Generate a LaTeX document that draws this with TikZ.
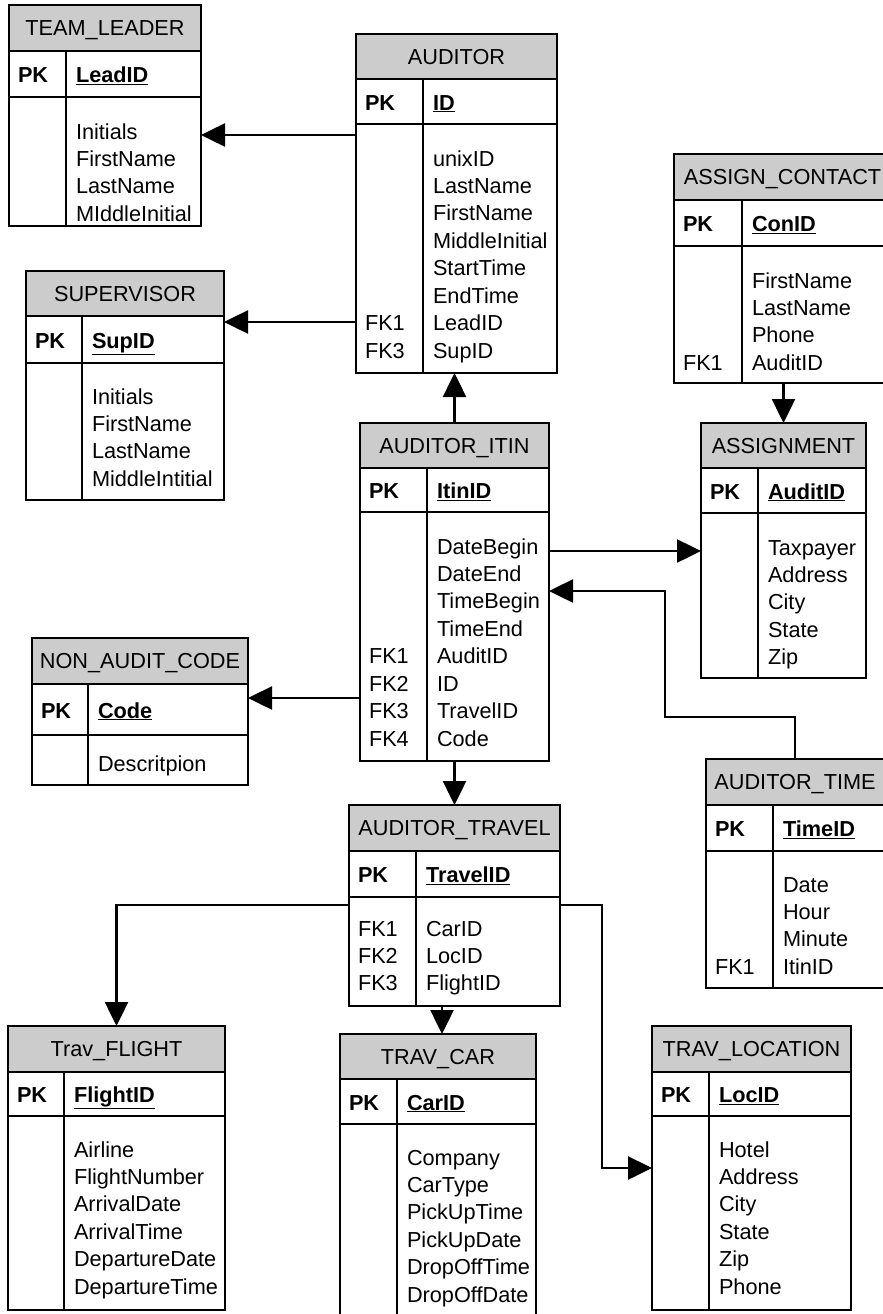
\documentclass[tikz,border=0pt]{standalone}
\usepackage{fontspec}
\setmainfont{Liberation Sans}
\usetikzlibrary{arrows.meta,calc}
\tikzset{
  box/.style={draw=black, line width=1.5pt, inner sep=0pt, outer sep=0pt},
  hdr/.style={box, fill=black!20},
  row/.style={box, fill=white},
  txt/.style={anchor=base west, inner sep=0pt, outer sep=0pt, font=\fontsize{21.7}{27.45}\selectfont},
  ttl/.style={txt, anchor=base},
  pkt/.style={txt, font=\fontsize{21.7}{27.45}\selectfont\bfseries},
  conn/.style={line width=2.5pt, -{Triangle[length=24pt,width=23pt]}},
}
% #1 name, #2 left, #3 right, #4 top, #5 header bottom, #6 pk bottom, #7 bottom, #8 divider, #9 title
\newcommand\ertable[9]{%
  \node[hdr, minimum width={#3-#2}, minimum height={#5-#4}] (#1-h) at ({(#2+#3)/2},{(#4+#5)/2}) {};
  \node[row, minimum width={#3-#2}, minimum height={#6-#5}] (#1-p) at ({(#2+#3)/2},{(#5+#6)/2}) {};
  \node[row, minimum width={#3-#2}, minimum height={#7-#6}] (#1-b) at ({(#2+#3)/2},{(#6+#7)/2}) {};
  \draw[box] (#8,#5) -- (#8,#7);
  \node[ttl] (#1-t) at ({(#2+#3)/2},{(#4+#5)/2+7.5}) {#9};
  \node[pkt] (#1-pk) at ({#2+9},{(#5+#6)/2+8.5}) {PK};
}
% #1 name, #2 divider, #3 key, #4 first field baseline, #5 fields
\newcommand\erfields[5]{%
  \node[pkt] (#1-key) at ($(#1-pk.base -| #2,0)+(10,0)$) {\underline{#3}};
  \foreach \t [count=\i] in {#5} {
    \node[txt] (#1-f\i) at ({#2+10},{#4+(\i-1)*27.45}) {\t};
  }
}
% #1 name, #2 left, #3 first baseline, #4 list index/label
\newcommand\erfk[4]{%
  \foreach \i/\t in {#4} {
    \node[txt] (#1-k\i) at ({#2+9},{#3+(\i-1)*27.45}) {\t};
  }
}
\begin{document}
\begin{tikzpicture}[x=1pt,y=-1pt]
\useasboundingbox (0,0) rectangle (883,1314);
\clip (0,0) rectangle (883,1314);

\ertable{tl}{9}{201}{5}{51}{97}{226}{66}{TEAM\_LEADER}
\erfields{tl}{66}{LeadID}{139}{Initials,FirstName,LastName,MIddleInitial}

\ertable{aud}{356}{557}{34}{79}{124}{373}{423}{AUDITOR}
\erfields{aud}{423}{ID}{166}{unixID,LastName,FirstName,MiddleInitial,StartTime,EndTime,LeadID,SupID}
\erfk{aud}{356}{166}{7/FK1,8/FK3}

\ertable{ac}{674}{891}{154}{200}{246}{383}{742}{ASSIGN\_CONTACT}
\erfields{ac}{742}{ConID}{288}{FirstName,LastName,Phone,AuditID}
\erfk{ac}{674}{288}{4/FK1}

\ertable{sup}{26}{224}{271}{316}{363}{500}{82}{SUPERVISOR}
\erfields{sup}{82}{SupID}{404}{Initials,FirstName,LastName,MiddleIntitial}

\ertable{itin}{360}{549}{423}{468}{512}{761}{427}{AUDITOR\_ITIN}
\erfields{itin}{427}{ItinID}{554}{DateBegin,DateEnd,TimeBegin,TimeEnd,AuditID,ID,TravelID,Code}
\erfk{itin}{360}{554}{5/FK1,6/FK2,7/FK3,8/FK4}

\ertable{asg}{701}{866}{423}{468}{513}{678}{758}{ASSIGNMENT}
\erfields{asg}{758}{AuditID}{555}{Taxpayer,Address,City,State,Zip}

\ertable{nac}{32}{248}{638}{684}{735}{785}{88}{NON\_AUDIT\_CODE}
\erfields{nac}{88}{Code}{771}{Descritpion}

\ertable{at}{706}{884}{759}{805}{851}{988}{773}{AUDITOR\_TIME}
\erfields{at}{773}{TimeID}{892}{Date,Hour,Minute,ItinID}
\erfk{at}{706}{892}{4/FK1}

\ertable{trv}{349}{560}{805}{851}{897}{1006}{416}{AUDITOR\_TRAVEL}
\erfields{trv}{416}{TravelID}{936}{CarID,LocID,FlightID}
\erfk{trv}{349}{936}{1/FK1,2/FK2,3/FK3}

\ertable{tf}{8}{225}{1026}{1072}{1116}{1310}{64}{Trav\_FLIGHT}
\erfields{tf}{64}{FlightID}{1157}{Airline,FlightNumber,ArrivalDate,ArrivalTime,DepartureDate,DepartureTime}

\ertable{tc}{340}{536}{1034}{1079}{1124}{1330}{397}{TRAV\_CAR}
\erfields{tc}{397}{CarID}{1165}{Company,CarType,PickUpTime,PickUpDate,DropOffTime,DropOffDate}

\ertable{tloc}{652}{851}{1026}{1072}{1116}{1310}{709}{TRAV\_LOCATION}
\erfields{tloc}{709}{LocID}{1157}{Hotel,Address,City,State,Zip,Phone}

% connectors
\draw[conn] (aud-b.west |- 0,135) -- (tl-b.east |- 0,135);
\draw[conn] (aud-b.west |- 0,322) -- (sup-p.east |- 0,322);
\draw[conn] (itin-h.north) -- (aud-b.south -| itin-h.north);
\draw[conn] (ac-b.south -| asg-h.north) -- (asg-h.north);
\draw[conn] (itin-b.east |- 0,551) -- (asg-b.west |- 0,551);
\draw[conn] (at-h.north) |- (665,717) |- (itin-b.east |- 0,591);
\draw[conn] (itin-b.west |- 0,698) -- (nac-p.east |- 0,698);
\draw[conn] (itin-b.south) -- (trv-h.north -| itin-b.south);
\draw[conn] (trv-b.west |- 0,905) -| (tf-h.north);
\draw[conn] (trv-b.south -| 442,0) -- (tc-h.north -| 442,0);
\draw[conn] (trv-b.east |- 0,905) -- (602,905) |- (tloc-b.west |- 0,1168);
\end{tikzpicture}
\end{document}
